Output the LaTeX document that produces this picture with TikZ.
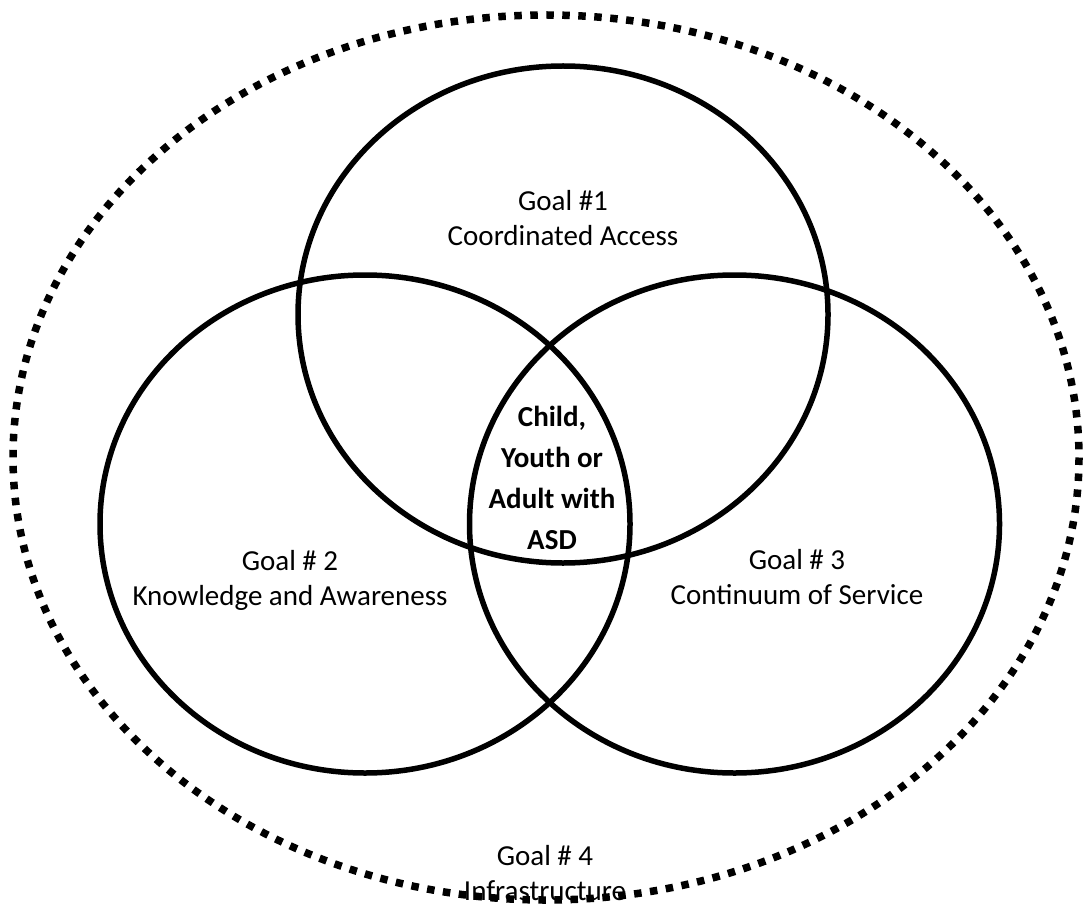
\documentclass[tikz,border=0pt]{standalone}
\usepackage{fontspec}
\setmainfont{Carlito}
\begin{document}
\begin{tikzpicture}[x=1pt,y=-1pt,
  goalcircle/.style={draw=black,line width=5.5pt},
  outerring/.style={draw=black,line width=7.5pt,dash pattern=on 7.5pt off 8.5pt},
  goallabel/.style={align=center,inner sep=0pt,font=\fontsize{29}{35}\selectfont},
  centerlabel/.style={align=center,inner sep=0pt,font=\fontsize{29}{41}\selectfont\bfseries}]
\useasboundingbox (0,0) rectangle (1083,909);
\path[outerring] (546,457.5) ellipse [x radius=533, y radius=442.5];
\path[goalcircle] (563,314.5) ellipse [x radius=265, y radius=248.5];
\path[goalcircle] (365,524) ellipse [x radius=265, y radius=249];
\path[goalcircle] (734.5,524) ellipse [x radius=265, y radius=249];
\node[goallabel] (g1) at (563,218.5) {Goal \#1\\Coordinated Access};
\node[goallabel] (g2) at (290,580.5) {Goal \# 2\\Knowledge and Awareness};
\node[goallabel] (g3) at (797,577.5) {Goal \# 3\\Continuum of Service};
\node[goallabel] (g4) at (545,873.5) {Goal \# 4\\Infrastructure};
\node[centerlabel] (asd) at (552,477.5) {Child,\\Youth or\\Adult with\\ASD};
\end{tikzpicture}
\end{document}
